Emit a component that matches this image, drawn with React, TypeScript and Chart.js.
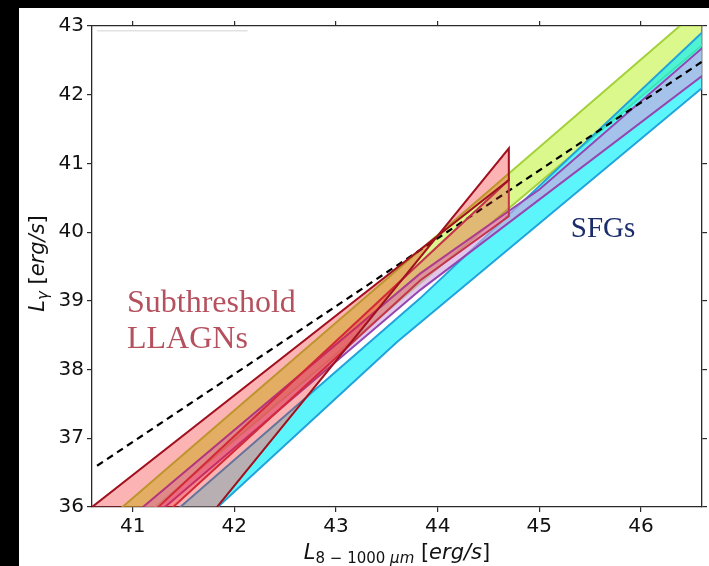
import React, { useEffect, useRef } from "react";
import { Chart, registerables } from "chart.js";

Chart.register(...registerables);

// ---- axis ranges / ticks ----
const X_MIN = 40.6;
const X_MAX = 46.6;
const Y_MIN = 36;
const Y_MAX = 43;
const X_TICKS = [41, 42, 43, 44, 45, 46];
const Y_TICKS = [36, 37, 38, 39, 40, 41, 42, 43];

// ---- band edges, [x, y] in data units (ends run past the axes and are clipped) ----
const greenUpper = [[40.5, 35.49], [47.0, 43.79]];
const greenLower = [[40.5, 35.1], [47.0, 43.22]];

// SFG cyan band: two overlapping layers sharing the lower edge
const cyanUpper = [[41.08, 35.5], [43.83, 39.04], [47.0, 43.46]];
const cyanInnerUpper = [[41.555, 35.5], [42.71, 37.6], [43.83, 39.04], [47.0, 43.46]];
const cyanLower = [[41.47, 35.5], [43.6, 38.4], [47.0, 42.59]];

const purpleUpper = [[40.7, 35.5], [43.83, 39.4], [45.0, 40.62], [47.0, 43.19]];
const purpleLower = [[40.92, 35.5], [43.83, 39.16], [47.0, 42.72]];

// Subthreshold LLAGN regions (closed outlines)
const llagnWide = [[40.17, 35.5], [44.7, 40.76], [44.7, 41.22], [41.555, 35.5]];
const llagnNarrow = [[40.89, 35.5], [44.7, 40.76], [44.7, 40.23], [43.83, 39.3], [41.03, 35.5]];

// dashed relation
const dashedLine = [[40.65, 36.6], [46.6, 42.48]];
// faint grey line at top-left
const faintLine = [[40.65, 42.93], [42.13, 42.93]];

// text annotations (data coords of left baseline)
const annSub = { lines: ["Subthreshold", "LLAGNs"], x: 40.944, y: [38.84, 38.31] };
const annSFG = { text: "SFGs", x: 45.31, y: 39.93 };

const pts = (arr: number[][]) => arr.map(([x, y]) => ({ x, y }));
const band = (upper: number[][], lower: number[][]) =>
  pts(upper.concat([...lower].reverse()));

const shapeDs = (data: any[], fillC: string, lineC: string, order: number, bw = 2) => ({
  data,
  showLine: true,
  fill: "shape",
  backgroundColor: fillC,
  borderColor: lineC,
  borderWidth: bw,
  pointRadius: 0,
  pointHoverRadius: 0,
  tension: 0,
  clip: 0,
  order,
});

const textPlugin = {
  id: "texts",
  afterDraw(chart: any) {
    const { ctx, scales } = chart;
    const xs = scales.x;
    const ys = scales.y;
    ctx.save();
    ctx.textAlign = "left";
    ctx.textBaseline = "alphabetic";

    ctx.fillStyle = "#b5515f";
    ctx.font = '32px "Liberation Serif"';
    annSub.lines.forEach((t, i) => {
      ctx.fillText(t, xs.getPixelForValue(annSub.x), ys.getPixelForValue(annSub.y[i]));
    });
    ctx.fillStyle = "#1c2d6b";
    ctx.font = '29px "Liberation Serif"';
    ctx.fillText(annSFG.text, xs.getPixelForValue(annSFG.x), ys.getPixelForValue(annSFG.y));

    ctx.fillStyle = "#111";
    const F = '"DejaVu Sans"';
    const xParts = [
      { t: "L", f: `italic 21px ${F}`, dy: 0 },
      { t: "8 \u2212 1000 ", f: `15px ${F}`, dy: 4 },
      { t: "\u03bcm", f: `italic 15px ${F}`, dy: 4 },
      { t: " [", f: `21px ${F}`, dy: 0 },
      { t: "erg/s", f: `italic 21px ${F}`, dy: 0 },
      { t: "]", f: `21px ${F}`, dy: 0 },
    ];
    const yParts = [
      { t: "L", f: `italic 21px ${F}`, dy: 0 },
      { t: "\u03b3", f: `italic 15px ${F}`, dy: 4 },
      { t: " [", f: `21px ${F}`, dy: 0 },
      { t: "erg/s", f: `italic 21px ${F}`, dy: 0 },
      { t: "]", f: `21px ${F}`, dy: 0 },
    ];
    const measure = (parts: any[]) =>
      parts.reduce((w, p) => {
        ctx.font = p.f;
        return w + ctx.measureText(p.t).width;
      }, 0);
    const ca = chart.chartArea;
    let w = measure(xParts);
    let cx = (ca.left + ca.right) / 2 - w / 2;
    const xBase = 551;
    xParts.forEach((p) => {
      ctx.font = p.f;
      ctx.fillText(p.t, cx, xBase + p.dy);
      cx += ctx.measureText(p.t).width;
    });
    w = measure(yParts);
    ctx.translate(25, (ca.top + ca.bottom) / 2 - 3);
    ctx.rotate(-Math.PI / 2);
    let cy = -w / 2;
    yParts.forEach((p) => {
      ctx.font = p.f;
      ctx.fillText(p.t, cy, p.dy);
      cy += ctx.measureText(p.t).width;
    });
    ctx.restore();
  },
};

const axisStyle = (
  pos: string,
  showLabels: boolean,
  min: number,
  max: number,
  size: number,
  tickVals: number[]
) => ({
  type: "linear",
  position: pos,
  min,
  max,
  border: { display: true, color: "#2a2a2a", width: 1.3 },
  grid: {
    display: true,
    drawOnChartArea: false,
    drawTicks: true,
    tickLength: 5,
    color: "#2a2a2a",
    tickColor: "#2a2a2a",
    lineWidth: 1.2,
  },
  ticks: {
    display: showLabels,
    autoSkip: false,
    maxRotation: 0,
    padding: 3,
    color: "#111",
    font: { family: "DejaVu Sans", size: 20 },
  },
  afterBuildTicks: (s: any) => {
    s.ticks = tickVals.map((v) => ({ value: v }));
  },
  afterFit: (s: any) => {
    if (pos === "left" || pos === "right") s.width = size;
    else s.height = size;
  },
});

export default function App() {
  const ref = useRef<HTMLCanvasElement>(null);
  useEffect(() => {
    const chart = new Chart(ref.current as HTMLCanvasElement, {
      type: "scatter",
      data: {
        datasets: [
          shapeDs(band(greenUpper, greenLower), "rgba(190,242,45,0.55)", "#a3d13a", 12),
          shapeDs(band(cyanInnerUpper, cyanLower), "rgba(0,240,250,0.4)", "rgba(0,0,0,0)", 11, 0),
          shapeDs(band(cyanUpper, cyanLower), "rgba(0,240,250,0.4)", "#22a3dc", 10),
          shapeDs(band(purpleUpper, purpleLower), "rgba(210,163,225,0.62)", "#9446b0", 9),
          {
            data: pts(faintLine),
            showLine: true,
            fill: false,
            borderColor: "#e2e2e2",
            borderWidth: 1.5,
            pointRadius: 0,
            order: 8,
          },
          {
            data: pts(dashedLine),
            showLine: true,
            fill: false,
            borderColor: "#000",
            borderWidth: 2.2,
            borderDash: [7, 5],
            pointRadius: 0,
            order: 7,
          },
          shapeDs(pts(llagnNarrow), "rgba(235,40,60,0.3)", "#c3334a", 6),
          shapeDs(pts(llagnWide), "rgba(245,20,20,0.32)", "#a0101e", 5),
        ] as any,
      },
      options: {
        animation: false,
        responsive: false,
        devicePixelRatio: 1,
        layout: { padding: 0 },
        plugins: { legend: { display: false }, tooltip: { enabled: false } },
        events: [],
        scales: {
          x: axisStyle("bottom", true, X_MIN, X_MAX, 59, X_TICKS),
          x2: axisStyle("top", false, X_MIN, X_MAX, 18, X_TICKS),
          y: axisStyle("left", true, Y_MIN, Y_MAX, 73, Y_TICKS),
          y2: axisStyle("right", false, Y_MIN, Y_MAX, 7, Y_TICKS),
        } as any,
      },
      plugins: [textPlugin],
    } as any);
    return () => chart.destroy();
  }, []);
  return (
    <div
      style={{
        position: "fixed",
        left: 0,
        top: 0,
        width: 709,
        height: 566,
        background: "#000",
        overflow: "hidden",
      }}
    >
      <canvas
        ref={ref}
        width={690}
        height={558}
        style={{ position: "absolute", left: 19, top: 8, width: 690, height: 558, background: "#fff" }}
      />
    </div>
  );
}
